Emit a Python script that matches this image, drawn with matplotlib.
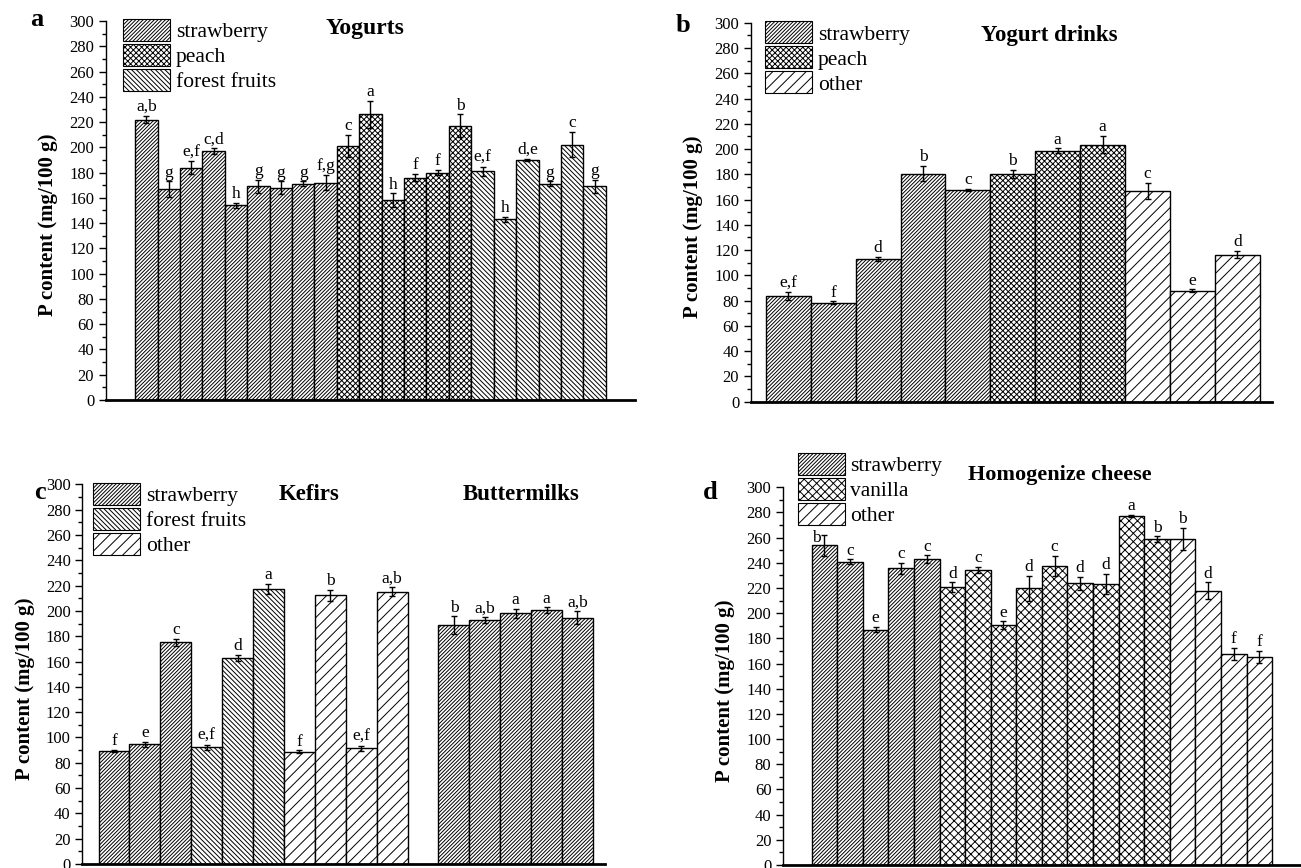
import numpy as np
import matplotlib
matplotlib.use("Agg")
import matplotlib.pyplot as plt
from matplotlib.patches import Patch
from matplotlib.ticker import MultipleLocator, AutoMinorLocator

plt.rcParams['font.family'] = ['Liberation Serif', 'DejaVu Serif']
plt.rcParams['hatch.linewidth'] = 0.7
plt.rcParams['hatch.color'] = 'black'

# hatch styles for flavours
HATCH = {"strawberry": "/" * 9, "peach": "x" * 6, "forest fruits": "\\" * 7,
         "other": "///", "vanilla": "xxxx"}

# ---- panel a: yogurts ----
a_groups = ["strawberry"] * 9 + ["peach"] * 6 + ["forest fruits"] * 6
a_values = [222, 167, 184, 197, 154, 169, 168, 171, 172,
            201, 226, 158, 176, 180, 217,
            181, 143, 190, 171, 202, 169]
a_errors = [3, 6, 5, 2.5, 2, 5, 5, 2, 6,
            9, 11, 5.5, 3, 2, 9,
            3.7, 2, 1, 2, 10, 5.5]
a_letters = ["a,b", "g", "e,f", "c,d", "h", "g", "g", "g", "f,g",
             "c", "a", "h", "f", "f", "b",
             "e,f", "h", "d,e", "g", "c", "g"]

# ---- panel b: yogurt drinks ----
b_groups = ["strawberry"] * 5 + ["peach"] * 3 + ["other"] * 3
b_values = [83.5, 78.5, 113, 180.5, 167.5, 180.5, 198.5, 203.5, 167, 88, 116.5]
b_errors = [3, 1, 1.5, 6, 1, 3.3, 2, 7, 6.5, 1, 3]
b_letters = ["e,f", "f", "d", "b", "c", "b", "a", "a", "c", "e", "d"]

# ---- panel c: kefirs + buttermilks ----
c_groups = (["strawberry"] * 3 + ["forest fruits"] * 3 + ["other"] * 4
            + ["strawberry"] * 5)
c_values = [89.3, 94.8, 175.2, 92.2, 163, 217.3, 88.7, 212.3, 91.4, 215.1,
            188.6, 192.8, 198, 200.7, 194.6]
c_errors = [1, 2, 2.9, 2, 2.5, 4.3, 1, 4.3, 2, 3.6,
            7, 2.5, 3.4, 2, 5.3]
c_letters = ["f", "e", "c", "e,f", "d", "a", "f", "b", "e,f", "a,b",
             "b", "a,b", "a", "a", "a,b"]

# ---- panel d: homogenized cheese ----
d_groups = ["strawberry"] * 5 + ["vanilla"] * 9 + ["other"] * 4
d_values = [253.9, 240.7, 186.9, 235.7, 243, 220.8, 234.5, 190.4, 219.8,
            237.5, 223.7, 223.2, 277.2, 258.9, 258.9, 217.9, 167.6, 165.2]
d_errors = [8.2, 2, 2, 4.5, 3, 3.7, 2.4, 3, 10,
            8.3, 5.3, 8, 1, 2.2, 9, 6.7, 4.9, 4.9]
d_letters = ["b", "c", "e", "c", "c", "d", "c", "e", "d",
             "c", "d", "d", "a", "b", "b", "d", "f", "f"]


def draw_panel(ax, pos, values, errors, letters, groups, xlim, nudge=None):
    nudge = nudge or {}
    for i, (x, v, e, lab, g) in enumerate(zip(pos, values, errors, letters, groups)):
        ax.bar(x, v, width=1.0, color="white", edgecolor="black",
               linewidth=1.0, hatch=HATCH[g], zorder=2)
        ax.errorbar(x, v, yerr=e, fmt="none", ecolor="black",
                    elinewidth=1.0, capsize=2.5, capthick=1.0, zorder=3)
        ax.annotate(lab, (x, v + e), xytext=nudge.get(i, (0, 0.5)),
                    textcoords="offset points", ha="center", va="bottom",
                    fontsize=12.5)
    ax.set_xlim(*xlim)
    ax.set_ylim(0, 300)
    ax.yaxis.set_major_locator(MultipleLocator(20))
    ax.yaxis.set_minor_locator(AutoMinorLocator(2))
    ax.set_xticks([])
    ax.spines["top"].set_visible(False)
    ax.spines["right"].set_visible(False)
    ax.spines["bottom"].set_linewidth(2.0)
    ax.spines["left"].set_linewidth(1.0)
    ax.tick_params(axis="y", which="major", length=5, width=1, labelsize=12,
                   direction="out")
    ax.tick_params(axis="y", which="minor", length=3, width=1, direction="out")
    ax.set_ylabel("P content (mg/100 g)", fontsize=15, fontweight="bold",
                  labelpad=8, y=0.462)


def add_legend(ax, labels, anchor):
    handles = [Patch(facecolor="white", edgecolor="black", linewidth=0.8,
                     hatch=HATCH[l]) for l in labels]
    ax.legend(handles, labels, loc="upper left", bbox_to_anchor=anchor,
              frameon=False, fontsize=15.5, handlelength=2.2, handleheight=1.2,
              handletextpad=0.25, labelspacing=0.08, borderpad=0,
              borderaxespad=0)


fig = plt.figure(figsize=(13.01, 8.68), dpi=100)

ax_a = fig.add_axes([0.0815, 0.5392, 0.4065, 0.4366])
draw_panel(ax_a, np.arange(len(a_values)), a_values, a_errors, a_letters,
           a_groups, (-1.8, len(a_values) - 0.5 + 1.3))
add_legend(ax_a, ["strawberry", "peach", "forest fruits"], (0.032, 1.005))
ax_a.text(0.49, 0.979, "Yogurts", transform=ax_a.transAxes, ha="center",
          va="center", fontsize=17, fontweight="bold")

ax_b = fig.add_axes([0.5772, 0.5372, 0.4005, 0.4366])
draw_panel(ax_b, np.arange(len(b_values)), b_values, b_errors, b_letters,
           b_groups, (-0.83, len(b_values) - 0.5 + 0.27))
add_legend(ax_b, ["strawberry", "peach", "other"], (0.027, 1.004))
ax_b.text(0.572, 0.9675, "Yogurt drinks", transform=ax_b.transAxes,
          ha="center", va="center", fontsize=16.5, fontweight="bold")

ax_c = fig.add_axes([0.0634, 0.0046, 0.4016, 0.4374])
c_pos = np.concatenate([np.arange(10), np.arange(11, 16)])
draw_panel(ax_c, c_pos, c_values, c_errors, c_letters, c_groups,
           (-1.02, 15.5 + 0.39))
add_legend(ax_c, ["strawberry", "forest fruits", "other"], (0.02, 1.004))
ax_c.text(0.434, 0.972, "Kefirs", transform=ax_c.transAxes, ha="center",
          va="center", fontsize=16.5, fontweight="bold")
ax_c.text(0.84, 0.972, "Buttermilks", transform=ax_c.transAxes, ha="center",
          va="center", fontsize=16.5, fontweight="bold")

ax_d = fig.add_axes([0.602, 0.0035, 0.398, 0.4351])
draw_panel(ax_d, np.arange(len(d_values)), d_values, d_errors, d_letters,
           d_groups, (-1.61, len(d_values) - 0.5 + 1.13), nudge={0: (-6, -8)})
add_legend(ax_d, ["strawberry", "vanilla", "other"], (0.028, 1.091))
ax_d.text(0.535, 1.033, "Homogenize cheese", transform=ax_d.transAxes,
          ha="center", va="center", fontsize=16, fontweight="bold")

for lab, x, y in [("a", 0.0284, 0.977), ("b", 0.525, 0.971),
                  ("c", 0.0307, 0.433), ("d", 0.546, 0.433)]:
    fig.text(x, y, lab, ha="center", va="center", fontsize=19,
             fontweight="bold")

fig.savefig("out.png", dpi=100)
